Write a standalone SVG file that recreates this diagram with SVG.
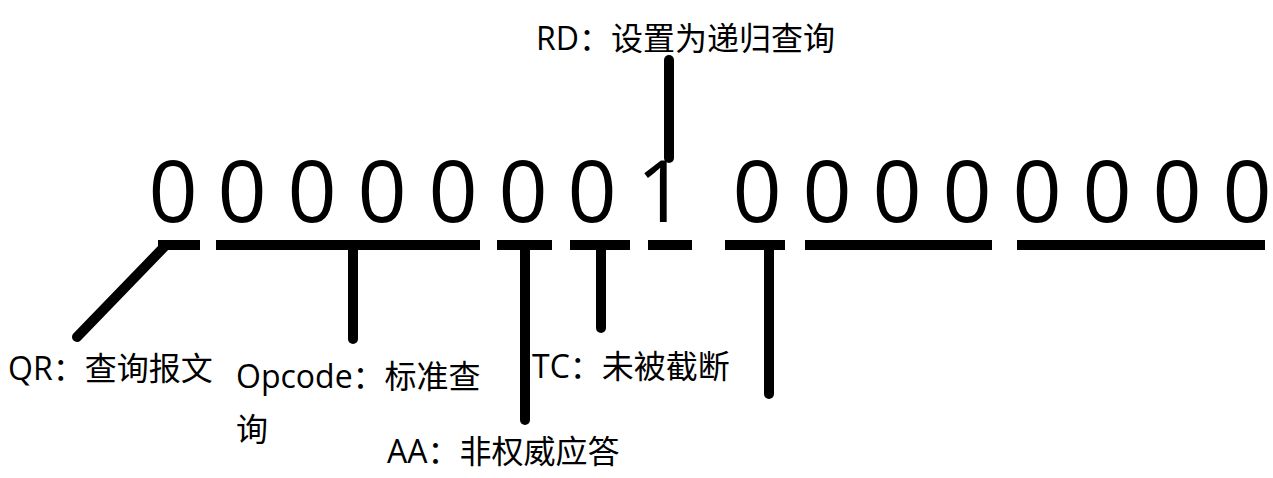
<svg xmlns="http://www.w3.org/2000/svg" width="1273" height="478" viewBox="0 0 1273 478">
<style>
.bit{font-family:"Open Sans","Liberation Sans",sans-serif;font-size:86px;fill:#000;text-anchor:middle}
.lbl{font-family:"Open Sans","Noto Sans CJK SC",sans-serif;font-size:32px;fill:#000}
.bar{stroke:#000;stroke-width:10;fill:none;stroke-linecap:butt}
.stem{stroke:#000;stroke-width:10;fill:none;stroke-linecap:round}
</style>
<rect width="1273" height="478" fill="#fff"/>
<g id="bits">
<text class="bit" x="173" y="222">0</text>
<text class="bit" x="242" y="222">0</text>
<text class="bit" x="312" y="222">0</text>
<text class="bit" x="382" y="222">0</text>
<text class="bit" x="453" y="222">0</text>
<text class="bit" x="523" y="222">0</text>
<text class="bit" x="592" y="222">0</text>
<text class="bit" x="661" y="222">1</text>
<text class="bit" x="757" y="222">0</text>
<text class="bit" x="827" y="222">0</text>
<text class="bit" x="897" y="222">0</text>
<text class="bit" x="967" y="222">0</text>
<text class="bit" x="1037" y="222">0</text>
<text class="bit" x="1107" y="222">0</text>
<text class="bit" x="1177" y="222">0</text>
<text class="bit" x="1247" y="222">0</text>
</g>
<g id="connectors">
<line class="bar" x1="158" y1="245" x2="200" y2="245"/>
<line class="bar" x1="216" y1="245" x2="480" y2="245"/>
<line class="bar" x1="497" y1="245" x2="552" y2="245"/>
<line class="bar" x1="570" y1="245" x2="630" y2="245"/>
<line class="bar" x1="648" y1="245" x2="692" y2="245"/>
<line class="bar" x1="725" y1="245" x2="785" y2="245"/>
<line class="bar" x1="805" y1="245" x2="992" y2="245"/>
<line class="bar" x1="1017" y1="245" x2="1265" y2="245"/>
<line class="stem" x1="165" y1="246" x2="77" y2="337"/>
<line class="stem" x1="353" y1="248" x2="353" y2="339"/>
<line class="stem" x1="525" y1="248" x2="525" y2="420"/>
<line class="stem" x1="601" y1="248" x2="601" y2="328"/>
<line class="stem" x1="769" y1="248" x2="769" y2="394"/>
<line class="stem" x1="669" y1="60" x2="669" y2="158"/>
</g>
<g id="rd"><text class="lbl" x="536" y="50">RD：设置为递归查询</text></g>
<g id="qr"><text class="lbl" x="8" y="380">QR：查询报文</text></g>
<g id="opcode"><text class="lbl" x="236" y="388">Opcode：标准查</text><text class="lbl" x="236" y="441">询</text></g>
<g id="tc"><text class="lbl" x="532" y="378">TC：未被截断</text></g>
<g id="aa"><text class="lbl" x="387" y="463">AA：非权威应答</text></g>
</svg>
